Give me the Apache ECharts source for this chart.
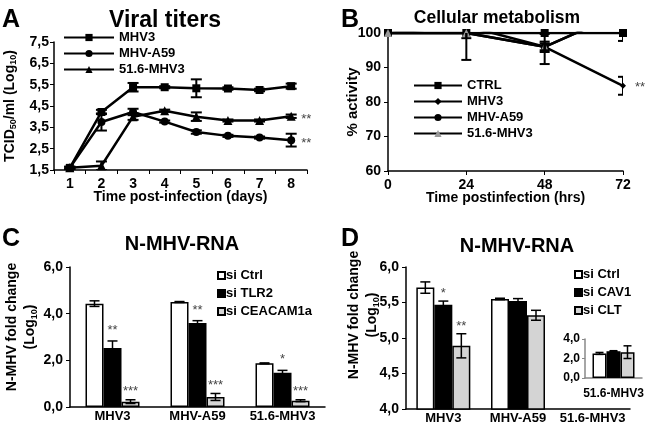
<!DOCTYPE html>
<html><head><meta charset="utf-8">
<script src="https://cdn.jsdelivr.net/npm/echarts@6/dist/echarts.min.js"></script>
<style>html,body{margin:0;padding:0;background:#fff}#c{width:650px;height:430px}</style>
</head><body><div id="c"></div>
<script>
// ---- Panel A: viral titers ----
const daysA = ['1','2','3','4','5','6','7','8'];
const titerMHV3 = [1.6,4.22,5.38,5.38,5.33,5.32,5.25,5.43];
const titerMHV3Err = [0.05,0.1,0.2,0.05,0.42,0.06,0.06,0.12];
const titerA59 = [1.6,3.75,4.22,3.77,3.28,3.1,3.02,2.9];
const titerA59Err = [0.05,0.4,0.15,0.05,0.08,0.05,0.05,0.3];
const titer516 = [1.6,1.7,4.0,4.28,4.0,3.82,3.82,4.02];
const titer516Err = [0.05,0.2,0.15,0.05,0.2,0.05,0.05,0.08];
const sigA59 = ['','','','','','','','**'];
const sig516 = ['','','','','','','','**'];
// ---- Panel B: cellular metabolism ----
const hoursB = [0,24,48,72];
const actCTRL = [100,100,100,100];
const actCTRLErr = [0,0,0.3,2.3];
const actMHV3 = [100,100,96,84.7];
const actMHV3Err = [0,7.8,5,2.6];
const actA59 = [100,102,96,106];
const actA59Err = [0,3.5,1.5,0];
const act516 = [100,100,96,106];
const act516Err = [0,0,1,0];
const sigB = ['','','','**'];
// ---- Panels C & D ----
const groupsCD = ['MHV3','MHV-A59','51.6-MHV3'];
const cCtrl = [4.43,4.5,1.87];
const cCtrlErr = [0.12,0.02,0.02];
const cTLR2 = [2.53,3.6,1.47];
const cTLR2Err = [0.3,0.1,0.1];
const cCEA = [0.23,0.43,0.27];
const cCEAErr = [0.08,0.15,0.04];
const sigCTLR2 = ['**','**','*'];
const sigCCEA = ['***','***','***'];
const dCtrl = [5.71,5.55,2.52];
const dCtrlErr = [0.08,0.01,0.1];
const dCAV1 = [5.47,5.52,2.75];
const dCAV1Err = [0.05,0.035,0.05];
const dCLT = [4.89,5.32,2.65];
const dCLTErr = [0.17,0.07,0.65];
const sigDCAV1 = ['*','',''];
const sigDCLT = ['**','',''];
const insetGroup = ['51.6-MHV3'];

const FF = 'Liberation Sans, Arial, sans-serif';
const comma = d => v => v.toFixed(d).replace('.', ',');
const axisLbl = (extra) => Object.assign({color:'#000', fontWeight:'bold', fontSize:14, fontFamily:FF}, extra||{});
const blackLine = {lineStyle:{color:'#000', width:1.5}};
const nameStyle = (extra) => Object.assign({color:'#000', fontWeight:'bold', fontSize:14, fontFamily:FF,
  rich:{sub:{fontSize:9, fontWeight:'bold', fontFamily:FF, color:'#000', verticalAlign:'bottom', padding:[6,0,0,0]}}}, extra||{});

function errSeries(name, xi, yi, xs, vals, errs, opts) {
  const data = vals.map((v,i) => [xs[i], v - errs[i], v + errs[i]]);
  return {
    type:'custom', name, xAxisIndex:xi, yAxisIndex:yi, data, z:10, silent:true, clip:true,
    renderItem(params, api) {
      const x = api.value(0), lo = api.value(1), hi = api.value(2);
      const p1 = api.coord([x, lo]), p2 = api.coord([x, hi]);
      const cx = p1[0] + (opts.offset || 0), hw = opts.cap / 2;
      const style = {stroke:'#000', lineWidth: opts.lw || 1.5};
      if (Math.abs(p1[1]-p2[1]) < 0.5) return {type:'group', children:[]};
      return {type:'group', children:[
        {type:'line', shape:{x1:cx,y1:p1[1],x2:cx,y2:p2[1]}, style},
        {type:'line', shape:{x1:cx-hw,y1:p1[1],x2:cx+hw,y2:p1[1]}, style},
        {type:'line', shape:{x1:cx-hw,y1:p2[1],x2:cx+hw,y2:p2[1]}, style}]};
    }
  };
}
function sigSeries(name, xi, yi, xs, ys, sig, opts) {
  const data = ys.map((v,i) => [xs[i], v]);
  return {
    type:'custom', name, xAxisIndex:xi, yAxisIndex:yi, data, z:11, silent:true, clip:false,
    renderItem(params, api) {
      const s = sig[params.dataIndex];
      if (!s) return {type:'group', children:[]};
      const p = api.coord([api.value(0), api.value(1)]);
      return {type:'text', style:{text:s, x:p[0] + (opts.dx||0), y:p[1] + (opts.dy||0),
        align: opts.align || 'center', verticalAlign: opts.va || 'bottom', fill:'#444', font:'13px ' + FF}};
    }
  };
}
const plus = (v, e) => v.map((x,i) => x + e[i]);

const lineBase = {type:'line', lineStyle:{color:'#000', width:2.5}, itemStyle:{color:'#000'}, z:5, clip:true};
const ttl = (fs) => ({fontSize:fs, fontWeight:'bold', color:'#000', fontFamily:FF});
const legText = {color:'#000', fontWeight:'bold', fontSize:13, fontFamily:FF};

const option = {
  animation:false,
  backgroundColor:'#fff',
  title:[
    {text:'A', left:-3, top:3, textStyle:ttl(25)},
    {text:'Viral titers', left:160, top:4, textAlign:'center', textStyle:ttl(23)},
    {text:'B', left:336, top:3, textStyle:ttl(25)},
    {text:'Cellular metabolism', left:492, top:4, textAlign:'center', textStyle:ttl(17.5)},
    {text:'C', left:-3, top:222, textStyle:ttl(25)},
    {text:'N-MHV-RNA', left:177, top:229, textAlign:'center', textStyle:ttl(20)},
    {text:'D', left:336, top:222, textStyle:ttl(25)},
    {text:'N-MHV-RNA', left:512, top:231, textAlign:'center', textStyle:ttl(20)}
  ],
  legend:[
    {data:['A|MHV3','A|MHV-A59','A|51.6-MHV3'], formatter:n=>n.split('|')[1], orient:'vertical', left:58, top:26,
     itemWidth:50, itemHeight:9, itemGap:3, selectedMode:false, textStyle:legText},
    {data:['B|CTRL','B|MHV3','B|MHV-A59','B|51.6-MHV3'], formatter:n=>n.split('|')[1], orient:'vertical', left:408, top:74,
     itemWidth:48, itemHeight:9, itemGap:3, selectedMode:false, textStyle:legText},
    {data:['C|si Ctrl','C|si TLR2','C|si CEACAM1a'], formatter:n=>n.split('|')[1], orient:'vertical', left:212, top:264,
     icon:'rect', itemWidth:7, itemHeight:7, itemGap:5, selectedMode:false,
     textStyle:Object.assign({padding:[0,0,0,-4]}, legText)},
    {data:['D|si Ctrl','D|si CAV1','D|si CLT'], formatter:n=>n.split('|')[1], orient:'vertical', left:569, top:263,
     icon:'rect', itemWidth:7, itemHeight:7, itemGap:5, selectedMode:false,
     textStyle:Object.assign({padding:[0,0,0,-4]}, legText)}
  ],
  grid:[
    {left:54, top:42, width:253, height:128},
    {left:388, top:33, width:235, height:138},
    {left:70, top:267, width:255, height:140},
    {left:406, top:267, width:224, height:142},
    {left:585, top:339, width:57, height:39}
  ],
  xAxis:[
    {gridIndex:0, type:'category', data:daysA, boundaryGap:true, axisLine:blackLine,
     axisTick:{show:true, alignWithLabel:false, length:4, lineStyle:{color:'#000'}},
     axisLabel:axisLbl({margin:7}),
     name:'Time post-infection (days)', nameLocation:'middle', nameGap:20, nameMoveOverlap:false, nameTextStyle:nameStyle()},
    {gridIndex:1, type:'value', min:0, max:72, interval:24, axisLine:blackLine, splitLine:{show:false},
     axisTick:{show:true, length:4, lineStyle:{color:'#000'}},
     axisLabel:axisLbl({margin:7}),
     name:'Time postinfection (hrs)', nameLocation:'middle', nameGap:20, nameMoveOverlap:false, nameTextStyle:nameStyle()},
    {gridIndex:2, type:'category', data:groupsCD, axisLine:blackLine, axisTick:{show:false},
     axisLabel:axisLbl({margin:3, fontSize:13, interval:0})},
    {gridIndex:3, type:'category', data:groupsCD, axisLine:blackLine, axisTick:{show:false},
     axisLabel:axisLbl({margin:3, fontSize:13, interval:0})},
    {gridIndex:4, type:'category', data:insetGroup, axisLine:{lineStyle:{color:'#888', width:1.5}}, axisTick:{show:false},
     axisLabel:axisLbl({margin:10, fontSize:12, interval:0})}
  ],
  yAxis:[
    {gridIndex:0, type:'value', min:1.5, max:7.5, interval:1, axisLine:{show:true, lineStyle:{color:'#000', width:1.5}},
     axisTick:{show:true, length:4, lineStyle:{color:'#000'}}, splitLine:{show:false},
     axisLabel:axisLbl({formatter:comma(1), margin:5}),
     name:'TCID{sub|50}/ml (Log{sub|10})', nameLocation:'middle', nameGap:36, nameMoveOverlap:false, nameTextStyle:nameStyle()},
    {gridIndex:1, type:'value', min:60, max:100, interval:10, axisLine:{show:true, lineStyle:{color:'#000', width:1.5}},
     axisTick:{show:true, length:4, lineStyle:{color:'#000'}}, splitLine:{show:false},
     axisLabel:axisLbl({margin:7}),
     name:'% activity', nameLocation:'middle', nameGap:28, nameMoveOverlap:false, nameTextStyle:nameStyle({fontSize:15})},
    {gridIndex:2, type:'value', min:0, max:6, interval:2, axisLine:{show:true, lineStyle:{color:'#000', width:1.5}},
     axisTick:{show:true, length:4, lineStyle:{color:'#000'}}, splitLine:{show:false},
     axisLabel:axisLbl({formatter:comma(1), margin:7}),
     name:'N-MHV fold change\n(Log{sub|10})', nameLocation:'middle', nameGap:31, nameMoveOverlap:false,
     nameTextStyle:nameStyle({lineHeight:18, padding:[0,0,0,20]})},
    {gridIndex:3, type:'value', min:4, max:6, interval:0.5, axisLine:{show:true, lineStyle:{color:'#000', width:1.5}},
     axisTick:{show:true, length:4, lineStyle:{color:'#000'}}, splitLine:{show:false},
     axisLabel:axisLbl({formatter:comma(1), margin:7}),
     name:'N-MHV fold change\n(Log{sub|10})', nameLocation:'middle', nameGap:25, nameMoveOverlap:false,
     nameTextStyle:nameStyle({lineHeight:18, padding:[0,0,0,46]})},
    {gridIndex:4, type:'value', min:0, max:4, interval:2, axisLine:{show:true, lineStyle:{color:'#888', width:1.5}},
     axisTick:{show:true, length:3, lineStyle:{color:'#888'}}, splitLine:{show:false},
     axisLabel:axisLbl({formatter:comma(1), margin:5, fontSize:12})}
  ],
  series:[
    // A
    Object.assign({}, lineBase, {name:'A|MHV3', xAxisIndex:0, yAxisIndex:0, data:titerMHV3, symbol:'rect', symbolSize:8}),
    Object.assign({}, lineBase, {name:'A|MHV-A59', xAxisIndex:0, yAxisIndex:0, data:titerA59, symbol:'circle', symbolSize:8}),
    Object.assign({}, lineBase, {name:'A|51.6-MHV3', xAxisIndex:0, yAxisIndex:0, data:titer516, symbol:'triangle', symbolSize:9}),
    errSeries('eA1',0,0,daysA.map((d,i)=>i),titerMHV3,titerMHV3Err,{cap:11, lw:2}),
    errSeries('eA2',0,0,daysA.map((d,i)=>i),titerA59,titerA59Err,{cap:11, lw:2}),
    errSeries('eA3',0,0,daysA.map((d,i)=>i),titer516,titer516Err,{cap:11, lw:2}),
    sigSeries('sA2',0,0,daysA.map((d,i)=>i),titerA59,sigA59,{dx:10, dy:3, align:'left', va:'middle'}),
    sigSeries('sA3',0,0,daysA.map((d,i)=>i),titer516,sig516,{dx:10, dy:3, align:'left', va:'middle'}),
    // B
    Object.assign({}, lineBase, {name:'B|CTRL', xAxisIndex:1, yAxisIndex:1, data:hoursB.map((h,i)=>[h,actCTRL[i]]), symbol:'rect', symbolSize:8}),
    Object.assign({}, lineBase, {name:'B|MHV3', xAxisIndex:1, yAxisIndex:1, data:hoursB.map((h,i)=>[h,actMHV3[i]]), symbol:'diamond', symbolSize:6}),
    Object.assign({}, lineBase, {name:'B|MHV-A59', xAxisIndex:1, yAxisIndex:1, data:hoursB.map((h,i)=>[h,actA59[i]]), symbol:'circle', symbolSize:8}),
    Object.assign({}, lineBase, {name:'B|51.6-MHV3', xAxisIndex:1, yAxisIndex:1, data:hoursB.map((h,i)=>[h,act516[i]]), symbol:'triangle', symbolSize:8, itemStyle:{color:'#999'}}),
    errSeries('eB1',1,1,hoursB,actCTRL,actCTRLErr,{cap:10, lw:2}),
    errSeries('eB2',1,1,hoursB,actMHV3,actMHV3Err,{cap:10, lw:2}),
    errSeries('eB3',1,1,hoursB,actA59,actA59Err,{cap:10, lw:2}),
    errSeries('eB4',1,1,hoursB,act516,act516Err,{cap:10, lw:2}),
    sigSeries('sB',1,1,hoursB,actMHV3,sigB,{dx:12, dy:2, align:'left', va:'middle'}),
    // C
    {type:'bar', name:'C|si Ctrl', xAxisIndex:2, yAxisIndex:2, data:cCtrl, barWidth:18, barGap:'0%', itemStyle:{color:'#fff', borderColor:'#000', borderWidth:1.5}},
    {type:'bar', name:'C|si TLR2', xAxisIndex:2, yAxisIndex:2, data:cTLR2, barWidth:18, barGap:'0%', itemStyle:{color:'#000', borderColor:'#000', borderWidth:1.5}},
    {type:'bar', name:'C|si CEACAM1a', xAxisIndex:2, yAxisIndex:2, data:cCEA, barWidth:18, barGap:'0%', itemStyle:{color:'#d4d4d4', borderColor:'#000', borderWidth:1.5}},
    errSeries('eC1',2,2,[0,1,2],cCtrl,cCtrlErr,{cap:10, offset:-18}),
    errSeries('eC2',2,2,[0,1,2],cTLR2,cTLR2Err,{cap:10, offset:0}),
    errSeries('eC3',2,2,[0,1,2],cCEA,cCEAErr,{cap:10, offset:18}),
    sigSeries('sC2',2,2,[0,1,2],plus(cTLR2,cTLR2Err),sigCTLR2,{dy:-4}),
    sigSeries('sC3',2,2,[0,1,2],plus(cCEA,cCEAErr),sigCCEA,{dx:18, dy:-2}),
    // D
    {type:'bar', name:'D|si Ctrl', xAxisIndex:3, yAxisIndex:3, data:dCtrl, barWidth:18, barGap:'0%', itemStyle:{color:'#fff', borderColor:'#000', borderWidth:1.5}},
    {type:'bar', name:'D|si CAV1', xAxisIndex:3, yAxisIndex:3, data:dCAV1, barWidth:18, barGap:'0%', itemStyle:{color:'#000', borderColor:'#000', borderWidth:1.5}},
    {type:'bar', name:'D|si CLT', xAxisIndex:3, yAxisIndex:3, data:dCLT, barWidth:18, barGap:'0%', itemStyle:{color:'#d4d4d4', borderColor:'#000', borderWidth:1.5}},
    errSeries('eD1',3,3,[0,1,2],dCtrl,dCtrlErr,{cap:10, offset:-18}),
    errSeries('eD2',3,3,[0,1,2],dCAV1,dCAV1Err,{cap:10, offset:0}),
    errSeries('eD3',3,3,[0,1,2],dCLT,dCLTErr,{cap:10, offset:18}),
    sigSeries('sD2',3,3,[0,1,2],plus(dCAV1,dCAV1Err),sigDCAV1,{dy:-1}),
    sigSeries('sD3',3,3,[0,1,2],plus(dCLT,dCLTErr),sigDCLT,{dx:18, dy:-1}),
    // D inset (51.6-MHV3)
    {type:'bar', name:'E|si Ctrl', xAxisIndex:4, yAxisIndex:4, data:[dCtrl[2]], barWidth:14, barGap:'0%', itemStyle:{color:'#fff', borderColor:'#000', borderWidth:1.5}},
    {type:'bar', name:'E|si CAV1', xAxisIndex:4, yAxisIndex:4, data:[dCAV1[2]], barWidth:14, barGap:'0%', itemStyle:{color:'#000', borderColor:'#000', borderWidth:1.5}},
    {type:'bar', name:'E|si CLT', xAxisIndex:4, yAxisIndex:4, data:[dCLT[2]], barWidth:14, barGap:'0%', itemStyle:{color:'#d4d4d4', borderColor:'#000', borderWidth:1.5}},
    errSeries('eE1',4,4,[0],[dCtrl[2]],[dCtrlErr[2]],{cap:8, offset:-14}),
    errSeries('eE2',4,4,[0],[dCAV1[2]],[dCAV1Err[2]],{cap:8, offset:0}),
    errSeries('eE3',4,4,[0],[dCLT[2]],[dCLTErr[2]],{cap:8, offset:14})
  ]
};
const chart = echarts.init(document.getElementById('c'), null, {renderer:'canvas'});
chart.setOption(option);
</script></body></html>
